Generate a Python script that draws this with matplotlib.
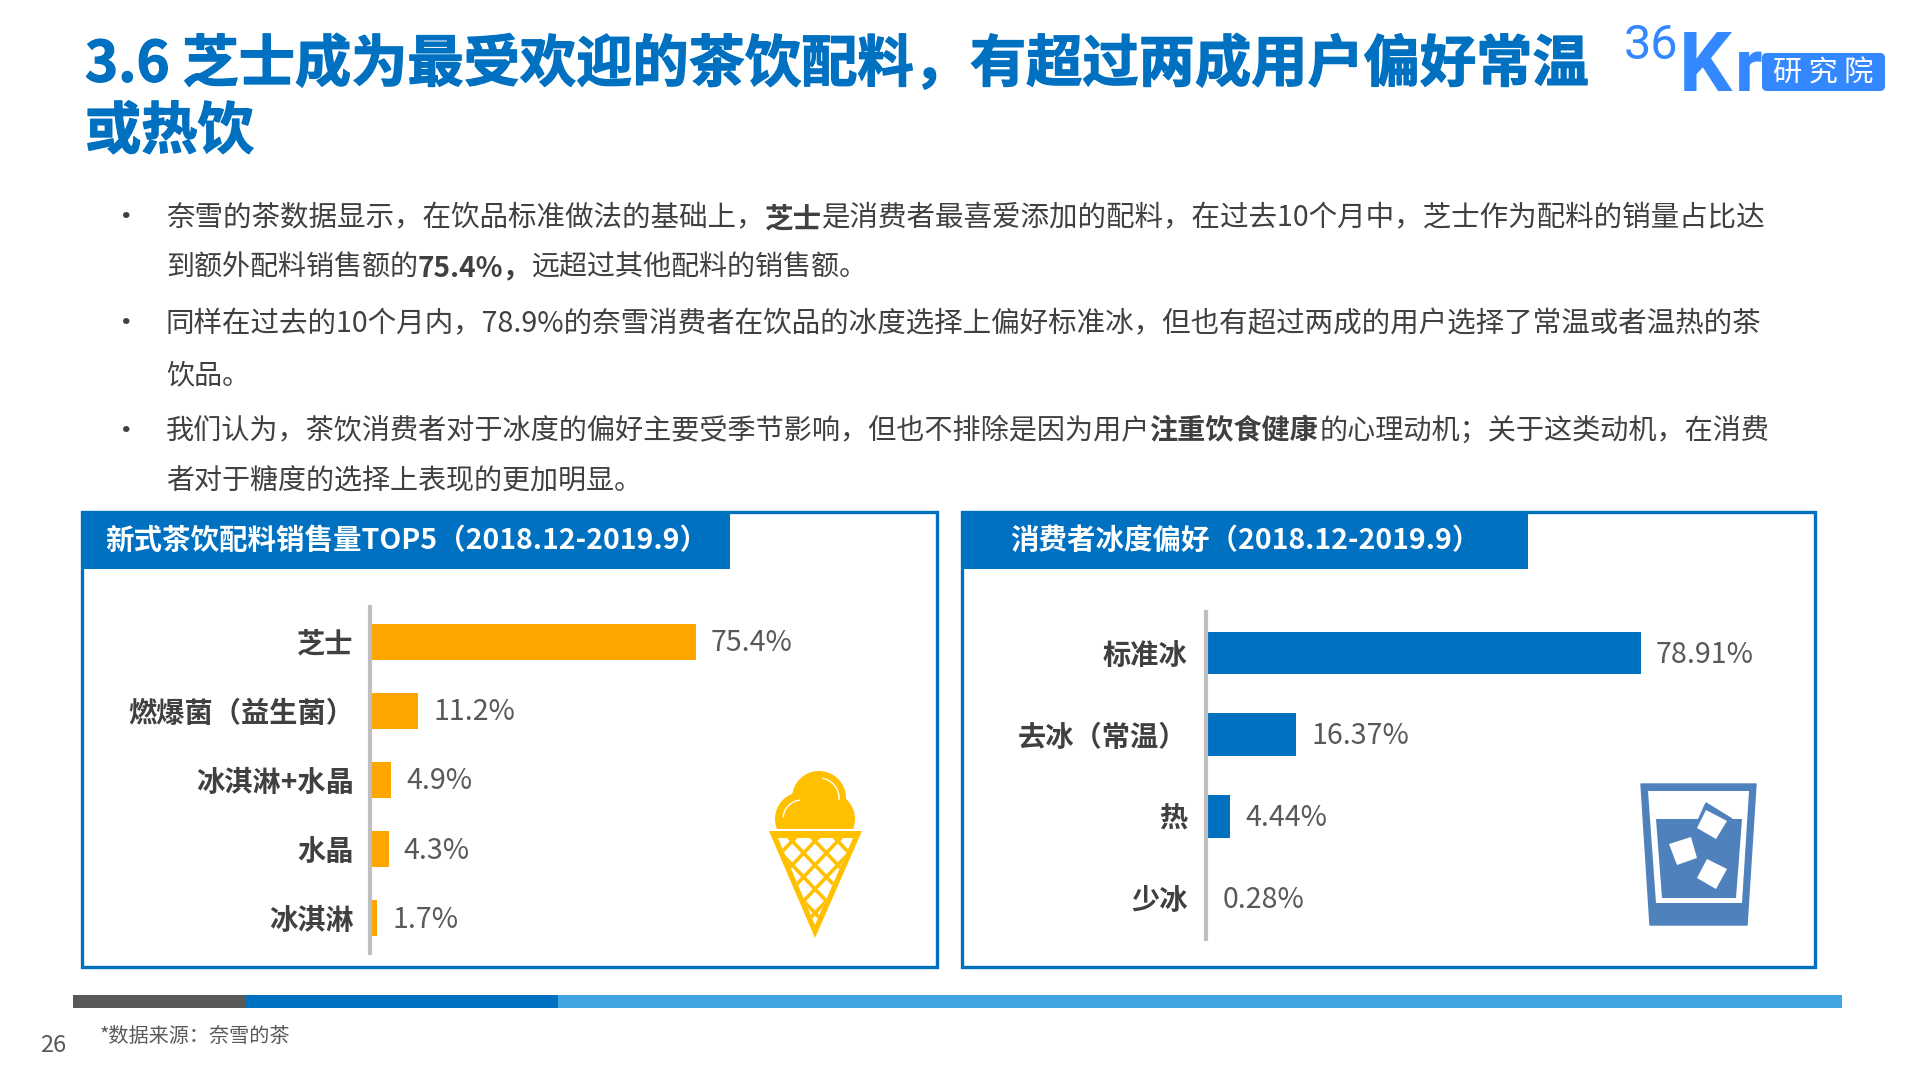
import numpy as np
import matplotlib.pyplot as plt
import matplotlib.patheffects as pe
from matplotlib.patches import Rectangle, Polygon, Circle, Arc, FancyBboxPatch

plt.rcParams['font.family'] = ['Noto Sans CJK SC', 'DejaVu Sans']

# 数据

# 数据１
x1 = ['芝士', '燃爆菌（益生菌）', '冰淇淋+水晶', '水晶', '冰淇淋']
y1 = [75.4, 11.2, 4.9, 4.3, 1.7]

# 数据２
x2 = ['标准冰', '去冰（常温）', '热', '少冰']
y2 = [78.91, 16.37, 4.44, 0.28]

# 正文(y, 字号, 每行分段, True为粗体)
lines = [
    (218, 20.55, [('奈雪的茶数据显示，在饮品标准做法的基础上，', False), ('芝士', True),
                  ('是消费者最喜爱添加的配料，在过去10个月中，芝士作为配料的销量占比达', False)]),
    (268, 20.2, [('到额外配料销售额的', False), ('75.4%，', True), ('远超过其他配料的销售额。', False)]),
    (324, 20.55, [('同样在过去的10个月内，78.9%的奈雪消费者在饮品的冰度选择上偏好标准冰，但也有超过两成的用户选择了常温或者温热的茶', False)]),
    (375, 20.2, [('饮品。', False)]),
    (431, 20.25, [('我们认为，茶饮消费者对于冰度的偏好主要受季节影响，但也不排除是因为用户', False), ('注重饮食健康', True),
                  ('的心理动机；关于这类动机，在消费', False)]),
    (482, 20.2, [('者对于糖度的选择上表现的更加明显。', False)]),
]

fig = plt.figure(figsize=(19.2, 10.8), dpi=100)

# 底层画布, 单位为像素
bg = fig.add_axes([0, 0, 1, 1])
bg.set_xlim(0, 1920)
bg.set_ylim(1080, 0)
bg.axis('off')

# 标题
heavy = [pe.withStroke(linewidth=0.9, foreground='#0070C0')]
bg.text(85, 65, '3.6 芝士成为最受欢迎的茶饮配料，有超过两成用户偏好常温', fontsize=40.5, fontweight='bold',
        color='#0070C0', va='center', path_effects=heavy)
bg.text(85, 132, '或热饮', fontsize=40.5, fontweight='bold', color='#0070C0', va='center', path_effects=heavy)

# 右上角标志
bg.text(1624, 46, '36', fontsize=35, color='#3388FF', va='center', family='Roboto')
bg.text(1679, 91, 'K', fontsize=60, fontweight='bold', color='#3388FF', va='baseline', family='Roboto')
bg.text(1735, 91, 'r', fontsize=54, fontweight='bold', color='#3388FF', va='baseline', family='Roboto')
bg.add_patch(FancyBboxPatch((1762, 53), 123, 38, boxstyle='round,pad=0,rounding_size=5', fc='#3388FF', ec='none'))
bg.text(1823, 74, '研 究 院', fontsize=21, color='white', va='center', ha='center')

# 正文
r = fig.canvas.get_renderer()
for y in [217, 324, 431]:
    bg.text(126, y, '•', fontsize=22, color='#404040', va='center', ha='center')
for y, size, parts in lines:
    x = 166
    for s, b in parts:
        t = bg.text(x, y, s, fontsize=size, color='#404040', va='center',
                    fontweight='bold' if b else 'normal')
        x = x + t.get_window_extent(r).width  # 接着上一段往后写

# 两个框
for left, right, head in [(82, 937, 730), (962, 1815, 1528)]:
    bg.add_patch(Rectangle((left, 512), right - left, 455, fc='none', ec='#0070C0', lw=2.4))
    bg.add_patch(Rectangle((left, 512), head - left, 57, fc='#0070C0', ec='none'))
bg.text(105, 541, '新式茶饮配料销售量TOP5（2018.12-2019.9）', fontsize=20.5, fontweight='bold',
        color='white', va='center')
bg.text(1010, 541, '消费者冰度偏好（2018.12-2019.9）', fontsize=20.5, fontweight='bold',
        color='white', va='center')

# 左图
ax = fig.add_axes([370 / 1920, 1 - 953 / 1080, 567 / 1920, 346 / 1080])
ax.patch.set_alpha(0)
ax.barh(x1, y1, height=0.52, color='#FFA500')
ax.set_xlim(0, 131)
ax.set_ylim(4.5, -0.5)
ax.set_xticks([])
for i in range(len(y1)):
    ax.text(y1[i] + 3.4, i + 0.02, str(y1[i]) + '%', fontsize=20.6, color='#595959', va='center')

# 右图
ax2 = fig.add_axes([1206 / 1920, 1 - 939 / 1080, 609 / 1920, 327 / 1080])
ax2.patch.set_alpha(0)
ax2.barh(x2, y2, height=0.52, color='#0070C0')
ax2.set_xlim(0, 110.5)
ax2.set_ylim(3.5, -0.5)
ax2.set_xticks([])
for i in range(len(y2)):
    ax2.text(y2[i] + 2.7, i + 0.02, str(y2[i]) + '%', fontsize=20.6, color='#595959', va='center')

for a, p in [(ax, 11.6), (ax2, 13.3)]:
    for k in ['top', 'right', 'bottom']:
        a.spines[k].set_visible(False)
    a.spines['left'].set_color('#BFBFBF')
    a.spines['left'].set_linewidth(3)
    a.tick_params(axis='y', length=0, pad=p)
    for lab in a.get_yticklabels():
        lab.set_fontsize(20.3)
        lab.set_fontweight('bold')
        lab.set_color('#404040')

# 冰淇淋
yellow = '#FFC000'
for c in [(819, 798), (802, 819), (828, 819)]:
    bg.add_patch(Circle(c, 27, fc=yellow, ec='none'))
bg.add_patch(Rectangle((770, 829), 100, 15, fc='white', ec='none'))
bg.add_patch(Arc((819, 798), 40, 40, theta1=280, theta2=5, ec='white', lw=1))
bg.add_patch(Arc((802, 819), 38, 38, theta1=185, theta2=265, ec='white', lw=1))
bg.add_patch(Polygon([(769, 831), (862, 831), (815, 938)], fc=yellow, ec='none'))
inner = Polygon([(778, 838), (853, 838), (815, 925)], fc='white', ec='none')
bg.add_patch(inner)
for c in [-48, -24, 0, 24, 48, 72]:  # 网格线
    ln, = bg.plot([760, 870], [838 + c + (-55), 838 + c + 55 + 6], color=yellow, lw=2.6)
    ln.set_clip_path(inner)
    ln, = bg.plot([760, 870], [838 + c + 55 + 6, 838 + c + (-55)], color=yellow, lw=2.6)
    ln.set_clip_path(inner)

# 杯子
blue2 = '#4F81BD'
bg.add_patch(Polygon([(1641, 784), (1756, 784), (1747, 925), (1650, 925)], fc=blue2, ec=blue2, lw=1, joinstyle='round'))
bg.add_patch(Polygon([(1648, 791), (1749, 791), (1742, 903), (1656, 903)], fc='white', ec='none'))
bg.add_patch(Polygon([(1656, 819), (1742, 819), (1736, 898), (1662, 898)], fc=blue2, ec='none'))
bg.add_patch(Polygon([(1706, 803), (1732, 819), (1716, 840), (1696, 825)], fc=blue2, ec=blue2))
bg.add_patch(Polygon([(1706, 810), (1727, 821), (1716, 839), (1697, 828)], fc='white', ec='none'))
bg.add_patch(Polygon([(1669, 844), (1691, 837), (1697, 858), (1677, 865)], fc='white', ec='none'))
bg.add_patch(Polygon([(1707, 859), (1727, 869), (1716, 889), (1697, 878)], fc='white', ec='none'))

# 底部色条
bg.add_patch(Rectangle((73, 995), 172, 13, fc='#595959', ec='none'))
bg.add_patch(Rectangle((245, 995), 313, 13, fc='#0070C0', ec='none'))
bg.add_patch(Rectangle((558, 995), 1284, 13, fc='#41A5E0', ec='none'))

bg.text(100, 1036, '*数据来源：奈雪的茶', fontsize=14.5, color='#595959', va='center')
bg.text(40, 1046, '26', fontsize=17, color='#595959', va='center')

fig.savefig('out.png', dpi=100)
